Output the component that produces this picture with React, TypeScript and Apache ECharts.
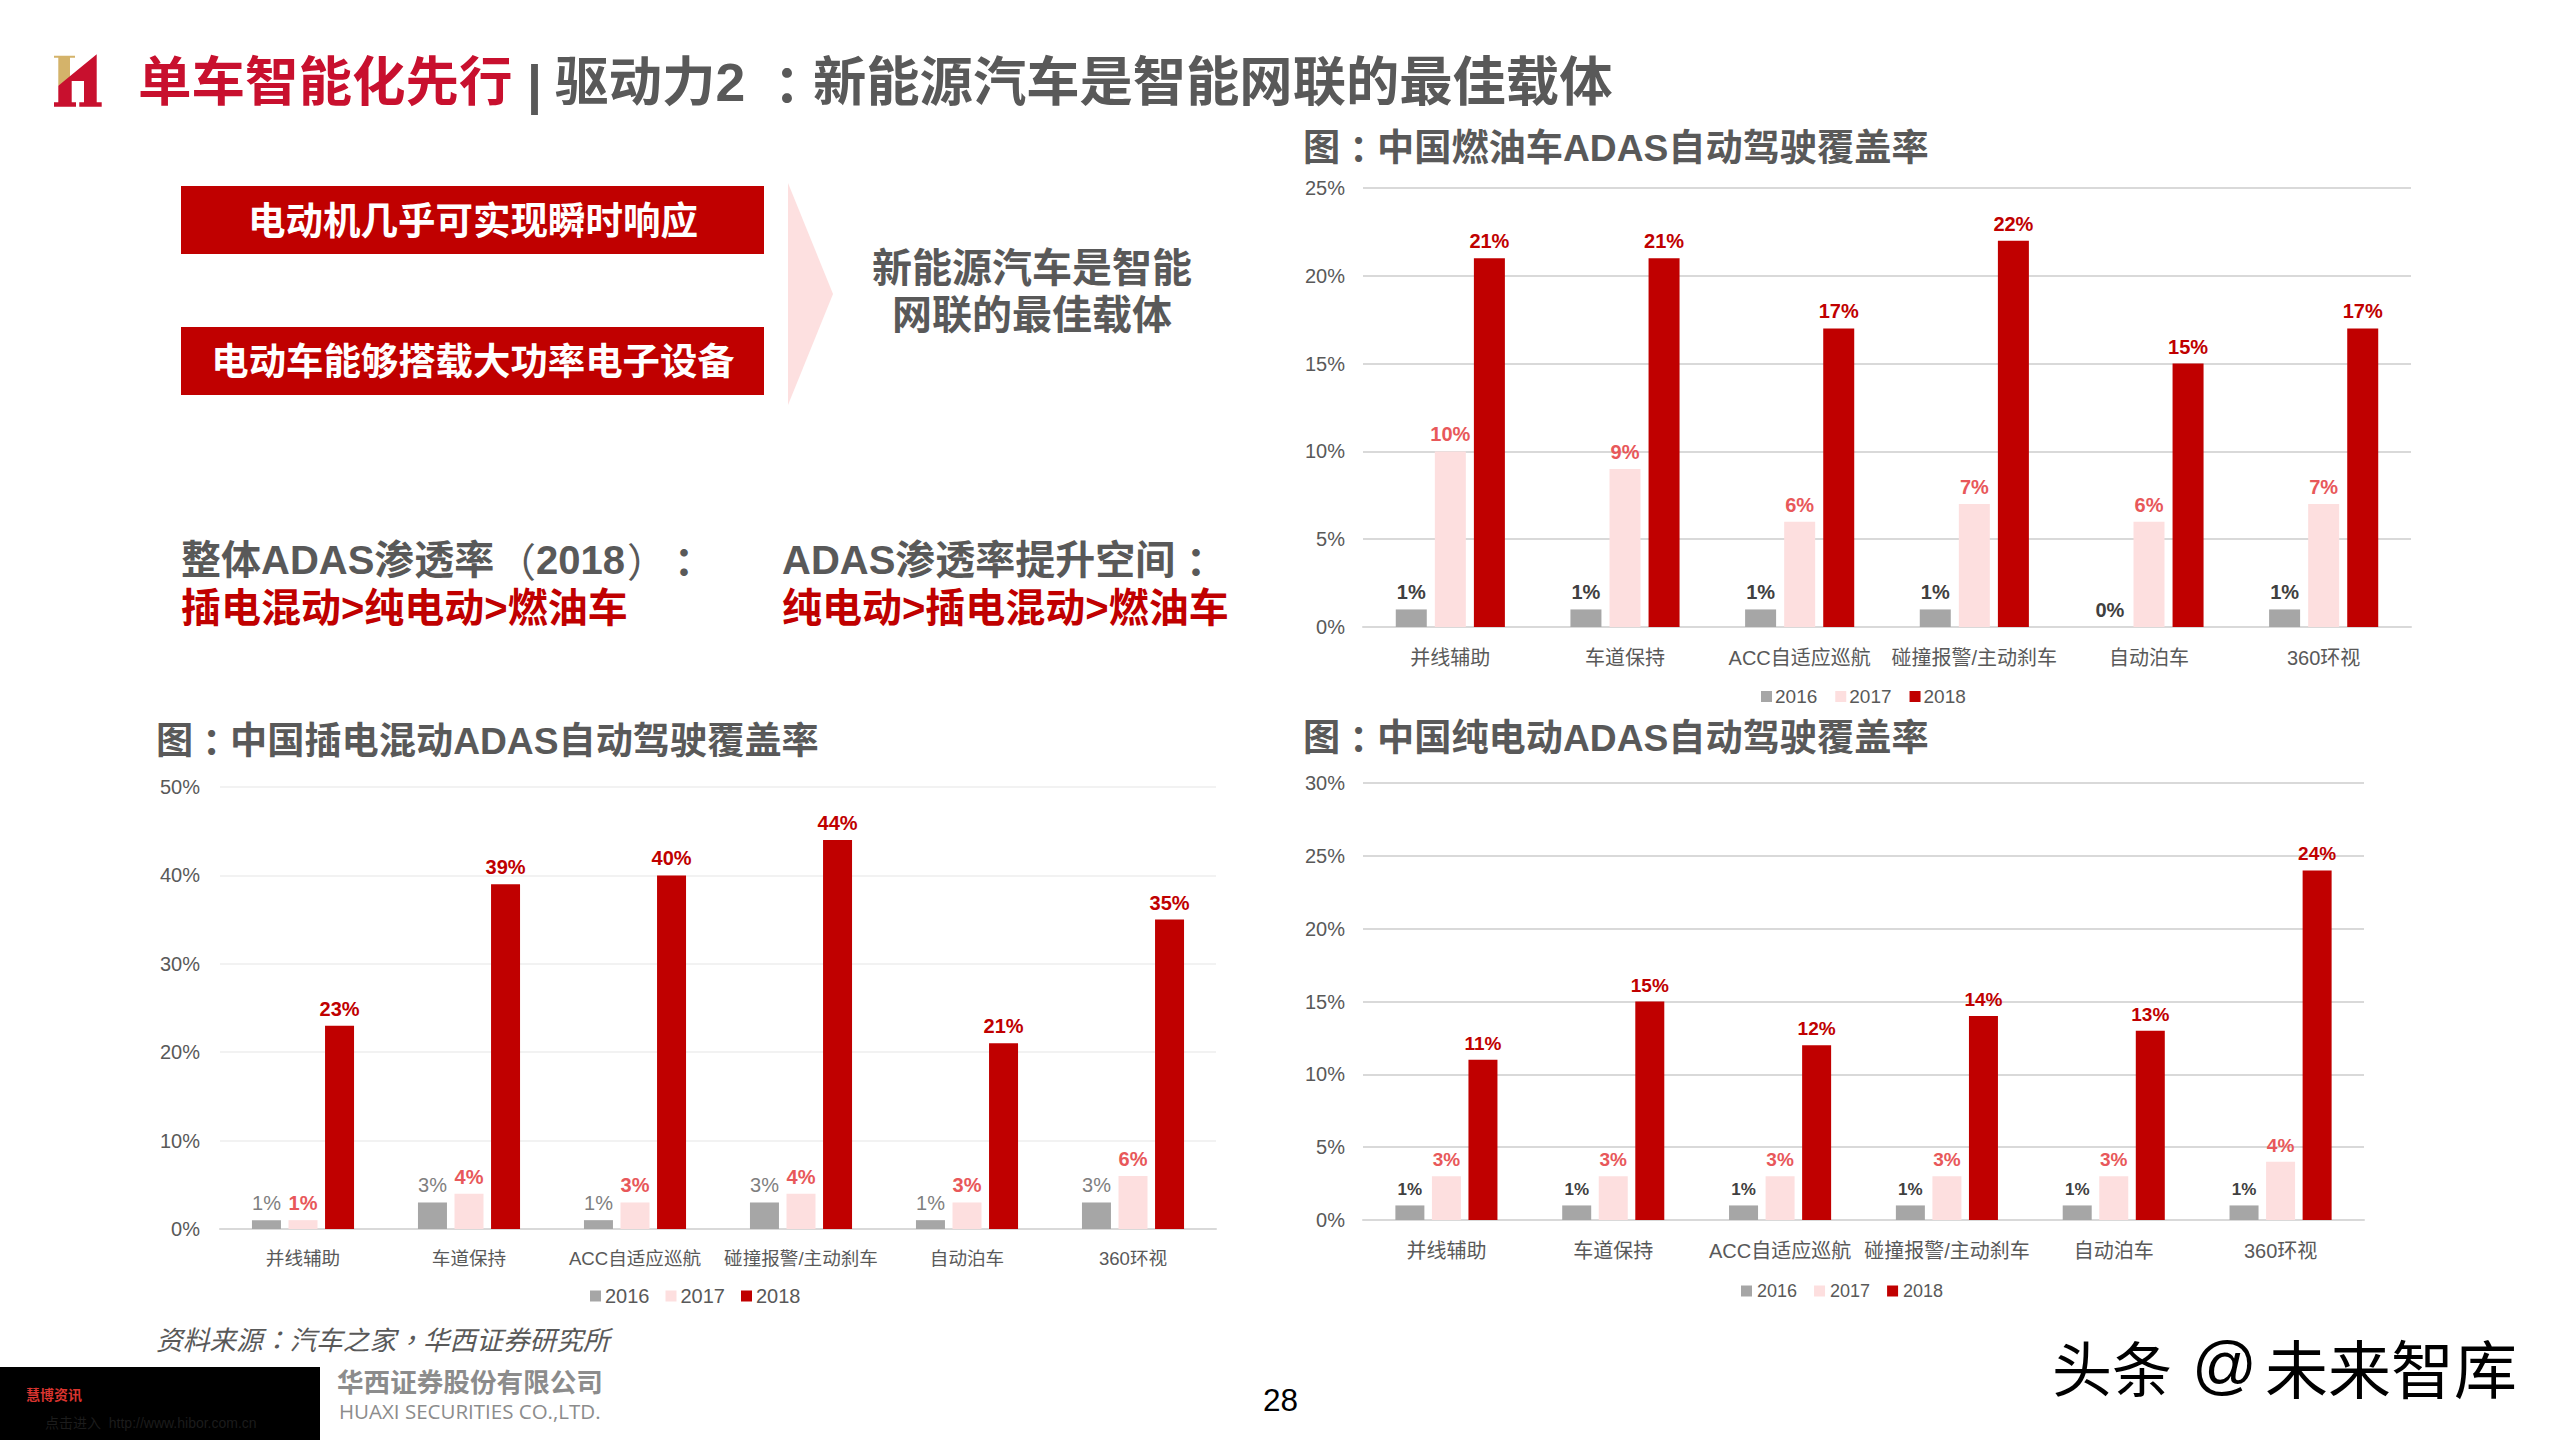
import { useEffect, useRef } from 'react';
import * as echarts from 'echarts';

const categories = ['并线辅助', '车道保持', 'ACC自适应巡航', '碰撞报警/主动刹车', '自动泊车', '360环视'];
const years = ['2016', '2017', '2018'];

const oil2016 = [1, 1, 1, 1, 0, 1];
const oil2017 = [10, 9, 6, 7, 6, 7];
const oil2018 = [21, 21, 17, 22, 15, 17];

const phev2016 = [1, 3, 1, 3, 1, 3];
const phev2017 = [1, 4, 3, 4, 3, 6];
const phev2018 = [23, 39, 40, 44, 21, 35];

const bev2016 = [1, 1, 1, 1, 1, 1];
const bev2017 = [3, 3, 3, 3, 3, 4];
const bev2018 = [11, 15, 12, 14, 13, 24];

const FONT = '"Liberation Sans", "Noto Sans CJK SC", sans-serif';
const CJK = '"Noto Sans CJK SC", "Liberation Sans", sans-serif';
// TC punctuation sits in the middle of the cell, like the reference
const CJK_TC = '"Noto Sans CJK TC", "Liberation Sans", sans-serif';
const GRAY = '#595959';
const RED = '#c00000';
const barColors = ['#a6a6a6', '#fddfdf', RED];

interface Panel {
  values: number[][];
  max: number;
  interval: number;
  left: number;
  right: number;
  top: number;
  bottom: number;
  barWidth: number;
  barGap: string;
  fontSize: number;
  catSize: number;
  catMargin: number;
  tickMargin: number;
  labelSizes: number[];
  labelColors: string[];
  labelWeights: string[];
  splitColor: string;
  legendLeft: number;
  legendTop: number;
  legendSize: number;
  legendGap: number;
  legendPad: number;
}

const panels: Panel[] = [
  {
    values: [oil2016, oil2017, oil2018],
    max: 25, interval: 5,
    left: 1363, right: 2411, top: 188, bottom: 627,
    barWidth: 31, barGap: '26%',
    fontSize: 20, catSize: 20, catMargin: 21, tickMargin: 18,
    labelSizes: [20, 20, 20],
    labelColors: ['#404040', '#e8585a', RED],
    labelWeights: ['bold', 'bold', 'bold'],
    splitColor: '#d9d9d9',
    legendLeft: 1761, legendTop: 687, legendSize: 19, legendGap: 18, legendPad: -2,
  },
  {
    values: [phev2016, phev2017, phev2018],
    max: 50, interval: 10,
    left: 220, right: 1216, top: 787, bottom: 1229,
    barWidth: 29, barGap: '26%',
    fontSize: 20, catSize: 18.6, catMargin: 20, tickMargin: 20,
    labelSizes: [20, 20, 20],
    labelColors: ['#7f7f7f', '#e8585a', RED],
    labelWeights: ['normal', 'bold', 'bold'],
    splitColor: '#f2f2f2',
    legendLeft: 590, legendTop: 1286, legendSize: 20, legendGap: 16, legendPad: -1,
  },
  {
    values: [bev2016, bev2017, bev2018],
    max: 30, interval: 5,
    left: 1363, right: 2364, top: 783, bottom: 1220,
    barWidth: 29, barGap: '26%',
    fontSize: 20, catSize: 20, catMargin: 21, tickMargin: 18,
    labelSizes: [17, 19, 19],
    labelColors: ['#404040', '#e8585a', RED],
    labelWeights: ['bold', 'bold', 'bold'],
    splitColor: '#d9d9d9',
    legendLeft: 1741, legendTop: 1282, legendSize: 18, legendGap: 17, legendPad: 0,
  },
];

const text = (
  value: string,
  x: number,
  y: number,
  fontSize: number,
  fill: string,
  extra: Record<string, unknown> = {}
) => ({
  type: 'text',
  x,
  y,
  style: {
    text: value,
    fontSize,
    fill,
    fontFamily: FONT,
    fontWeight: 'bold',
    verticalAlign: 'middle',
    align: 'left',
    ...extra,
  },
});

const poly = (points: number[][], fill: string) => ({
  type: 'polygon',
  shape: { points },
  style: { fill },
});

const rect = (x: number, y: number, width: number, height: number, fill: string) => ({
  type: 'rect',
  shape: { x, y, width, height },
  style: { fill },
});

const chartTitle = (x: number, y: number, rest: string) => [
  text('图', x, y, 37.2, GRAY),
  text('：', x + 37, y, 37.2, GRAY, { fontFamily: CJK_TC }),
  text(rest, x + 74, y, 37.2, GRAY),
];

const graphics = [
  // logo
  poly([[54, 55.7], [75, 55.7], [75, 57.7], [70, 57.7], [70, 78.3], [58.3, 85.7], [58.3, 57.7], [54, 57.7]], '#d4b36a'),
  poly(
    [[58.3, 85.7], [96.7, 54.3], [96.7, 102.3], [101.7, 102.3], [101.7, 106.7], [79.3, 106.7], [79.3, 102.3], [84, 102.3], [84, 81], [71.7, 81], [71.7, 102.3], [76, 102.3], [76, 106.7], [54, 106.7], [54, 102.3], [58.3, 102.3]],
    '#c8102e'
  ),

  // header
  text('单车智能化先行', 138, 82, 53.5, '#c8102e'),
  text('|', 527, 84, 53.5, GRAY),
  text('驱动力2', 555, 82, 53.5, GRAY),
  text('：', 761, 82, 52, GRAY, { fontFamily: CJK_TC }),
  text('新能源汽车是智能网联的最佳载体', 813, 82, 53.3, GRAY),

  // left callouts
  rect(181, 186, 583, 68, '#c00000'),
  rect(181, 327, 583, 68, '#c00000'),
  text('电动机几乎可实现瞬时响应', 473, 221, 37.5, '#fff', { align: 'center' }),
  text('电动车能够搭载大功率电子设备', 473, 362, 37.4, '#fff', { align: 'center' }),
  poly([[788, 183], [833, 294], [788, 405]], '#fde0e0'),
  text('新能源汽车是智能', 1032, 268, 40, GRAY, { align: 'center' }),
  text('网联的最佳载体', 1032, 315, 40, GRAY, { align: 'center' }),

  text('整体ADAS渗透率', 181, 560, 40, GRAY),
  text('（', 496, 560, 40, GRAY, { fontFamily: CJK_TC, fontWeight: 'normal' }),
  text('2018', 536, 560, 40, GRAY),
  text('）', 627, 560, 40, GRAY, { fontFamily: CJK_TC, fontWeight: 'normal' }),
  text('：', 664, 560, 40, GRAY, { fontFamily: CJK_TC }),
  text('插电混动>纯电动>燃油车', 181, 608, 40, RED),
  text('ADAS渗透率提升空间', 782, 560, 40, GRAY),
  text('：', 1176, 560, 40, GRAY, { fontFamily: CJK_TC }),
  text('纯电动>插电混动>燃油车', 782, 608, 40, RED),

  // chart titles
  ...chartTitle(1303, 148, '中国燃油车ADAS自动驾驶覆盖率'),
  ...chartTitle(156, 741, '中国插电混动ADAS自动驾驶覆盖率'),
  ...chartTitle(1303, 738, '中国纯电动ADAS自动驾驶覆盖率'),

  // footer
  text('资料来源：汽车之家，华西证券研究所', 156, 1338, 26.7, GRAY, {
    fontFamily: CJK_TC,
    fontWeight: 'normal',
    fontStyle: 'italic',
  }),
  rect(0, 1367, 320, 73, '#000'),
  text('慧博资讯', 26, 1395, 14, '#d9342f'),
  text('点击进入  http://www.hibor.com.cn', 45, 1423, 14, '#1c1c1c', { fontWeight: 'normal' }),
  text('华西证券股份有限公司', 337, 1380, 26.6, '#8c8c8c', { fontFamily: '"Noto Sans CJK SC", serif' }),
  text('HUAXI SECURITIES CO.,LTD.', 339, 1411, 20.5, '#8c8c8c', { fontFamily: '"Open Sans", sans-serif', fontWeight: 'normal' }),
  text('28', 1263, 1400, 31.5, '#000', { fontWeight: 'normal' }),
  text('头条', 2052, 1365, 60, '#000', { fontFamily: CJK, fontWeight: 'normal' }),
  text('@', 2192, 1365, 64, '#000', { fontWeight: 'normal' }),
  text('未来智库', 2265, 1365, 63, '#000', { fontFamily: CJK, fontWeight: 'normal' }),
];

const option = {
  animation: false,
  backgroundColor: '#fff',
  textStyle: { fontFamily: FONT },
  graphic: graphics,
  grid: panels.map((p) => ({
    left: p.left,
    top: p.top,
    width: p.right - p.left,
    height: p.bottom - p.top,
    containLabel: false,
  })),
  legend: panels.map((p) => ({
    data: years,
    left: p.legendLeft,
    top: p.legendTop,
    padding: 0,
    icon: 'rect',
    itemWidth: 11,
    itemHeight: 11,
    itemGap: p.legendGap,
    textStyle: { color: GRAY, fontSize: p.legendSize, padding: [0, 0, 0, p.legendPad] },
    selectedMode: false,
  })),
  xAxis: panels.map((p, i) => ({
    type: 'category',
    gridIndex: i,
    data: categories,
    axisTick: { show: false },
    axisLine: { lineStyle: { color: '#d9d9d9', width: 2 } },
    axisLabel: { color: GRAY, fontSize: p.catSize, margin: p.catMargin, interval: 0 },
  })),
  yAxis: panels.map((p, i) => ({
    type: 'value',
    gridIndex: i,
    min: 0,
    max: p.max,
    interval: p.interval,
    axisLine: { show: false },
    axisTick: { show: false },
    splitLine: { lineStyle: { color: p.splitColor, width: 2 } },
    axisLabel: { color: GRAY, fontSize: p.fontSize, margin: p.tickMargin, formatter: '{value}%' },
  })),
  series: panels.flatMap((p, i) =>
    p.values.map((data, j) => ({
      type: 'bar',
      name: years[j],
      xAxisIndex: i,
      yAxisIndex: i,
      data,
      barWidth: p.barWidth,
      barGap: p.barGap,
      itemStyle: { color: barColors[j] },
      label: {
        show: true,
        position: 'top',
        distance: 7,
        formatter: '{c}%',
        color: p.labelColors[j],
        fontSize: p.labelSizes[j],
        fontWeight: p.labelWeights[j],
      },
    }))
  ),
};

const App = () => {
  const ref = useRef<HTMLDivElement>(null);

  useEffect(() => {
    if (!ref.current) return;
    document.body.style.margin = '0';
    const chart = echarts.init(ref.current, null, { renderer: 'svg' });
    chart.setOption(option as echarts.EChartsCoreOption);
    return () => {
      chart.dispose();
    };
  }, []);

  return <div ref={ref} style={{ width: 2560, height: 1440 }} />;
};

export default App;
